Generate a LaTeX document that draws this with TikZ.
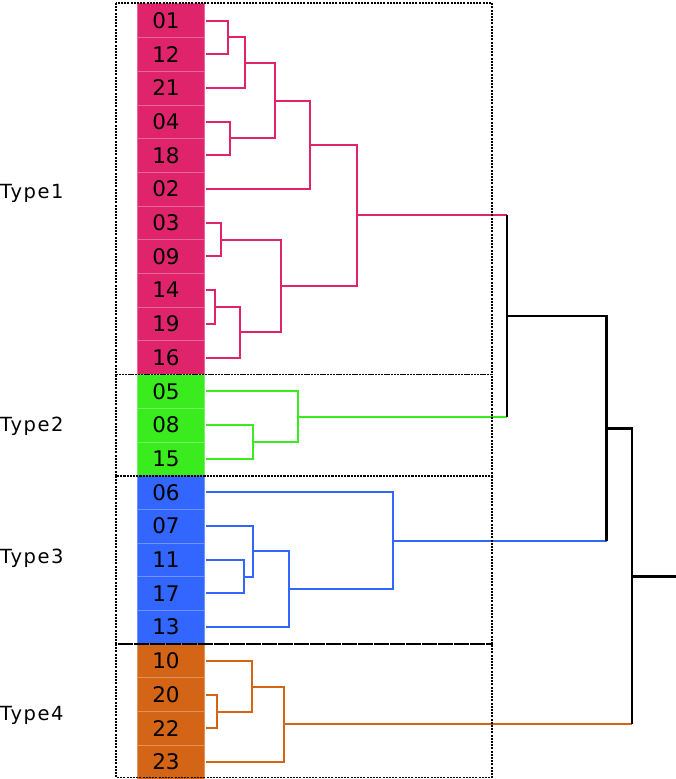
\documentclass[tikz,border=0pt]{standalone}
\usepackage{fontspec}
\setmainfont{DejaVu Sans}
\newfontfamily\typefont[LetterSpace=8]{DejaVu Sans}
\definecolor{cpink}{RGB}{224,36,108}
\definecolor{cgreen}{RGB}{58,235,30}
\definecolor{cblue}{RGB}{51,102,255}
\definecolor{corange}{RGB}{212,100,22}
\begin{document}
\begin{tikzpicture}[x=1pt,y=-1pt,
  leaf/.style={rectangle, minimum width=67pt, minimum height=33.7pt, inner sep=0pt,
    font=\fontsize{21.5}{22}\selectfont, text=black, line width=0.5pt},
  typelab/.style={anchor=west, inner sep=0pt, font=\typefont\fontsize{19.5}{21}\selectfont},
  pk/.style={draw=cpink, line width=2pt},
  gr/.style={draw=cgreen, line width=2pt},
  bl/.style={draw=cblue, line width=2pt},
  og/.style={draw=corange, line width=2pt},
  blk/.style={draw=black, line width=2.4pt},
  dbox/.style={draw=black, line width=1.3pt, dash pattern=on 2pt off 1.2pt}]
\useasboundingbox (0,0) rectangle (675,779);
% leaves
\foreach \n/\c [count=\i from 0] in {01/cpink,12/cpink,21/cpink,04/cpink,18/cpink,02/cpink,03/cpink,09/cpink,14/cpink,19/cpink,16/cpink,05/cgreen,08/cgreen,15/cgreen,06/cblue,07/cblue,11/cblue,17/cblue,13/cblue,10/corange,20/corange,22/corange,23/corange}{
  \node[leaf, fill=\c, draw=\c!70!white] (l\n) at (171, 20.5+33.7*\i) {\hspace*{-10pt}\n};
  \coordinate (e\n) at ([xshift=1.5pt]l\n.east);
}
% type labels
\node[typelab] (t1) at (0,193) {Type1};
\node[typelab] (t2) at (0,426) {Type2};
\node[typelab] (t3) at (0,558) {Type3};
\node[typelab] (t4) at (0,715) {Type4};
% merge points
\coordinate (A) at (228,37.35);
\coordinate (B) at (245,62.6);
\coordinate (C) at (229.5,138.45);
\coordinate (D) at (274.5,100.5);
\coordinate (E) at (309.5,144.75);
\coordinate (F) at (221,239.55);
\coordinate (G) at (215,306.95);
\coordinate (H) at (240,332.2);
\coordinate (I) at (281,285.9);
\coordinate (J) at (357,215.3);
\coordinate (K) at (253,441.85);
\coordinate (L) at (298,416.5);
\coordinate (M) at (244,576.65);
\coordinate (N) at (253,551.4);
\coordinate (O) at (288.5,589.3);
\coordinate (P) at (393,540.85);
\coordinate (Q) at (217,711.75);
\coordinate (R) at (252,686.5);
\coordinate (S) at (283.5,724.4);
\coordinate (T) at (507,315.9);
\coordinate (U) at (606.5,428.4);
\coordinate (V) at (632,576.4);
\coordinate (root) at (676,576.4);
% Type1
\draw[pk] (e01) -| (A) |- (e12);
\draw[pk] (A) -| (B) |- (e21);
\draw[pk] (e04) -| (C) |- (e18);
\draw[pk] (B) -| (D) |- (C);
\draw[pk] (D) -| (E) |- (e02);
\draw[pk] (e03) -| (F) |- (e09);
\draw[pk] (e14) -| (G) |- (e19);
\draw[pk] (G) -| (H) |- (e16);
\draw[pk] (F) -| (I) |- (H);
\draw[pk] (E) -| (J) |- (I);
\draw[pk] (J) -- (J -| T);
% Type2
\draw[gr] (e08) -| (K) |- (e15);
\draw[gr] (e05) -| (L) |- (K);
\draw[gr] (L) -- (L -| T);
% Type3
\draw[bl] (e11) -| (M) |- (e17);
\draw[bl] (e07) -| (N) |- (M);
\draw[bl] (N) -| (O) |- (e13);
\draw[bl] (e06) -| (P) |- (O);
\draw[bl] (P) -- (P -| U);
% Type4
\draw[og] (e20) -| (Q) |- (e22);
\draw[og] (e10) -| (R) |- (Q);
\draw[og] (R) -| (S) |- (e23);
\draw[og] (S) -- (S -| V);
% black top levels
\draw[blk] (J -| T) -- (L -| T);
\draw[blk] (T) -| (U) -- (P -| U);
\draw[blk] (U) -| (V) -- (S -| V);
\draw[blk] (V) -- (root);
% dashed group boxes
\draw[dbox] (116,3) rectangle (492,374.5);
\draw[dbox] (116,374.5) rectangle (492,476);
\draw[dbox] (116,476) rectangle (492,644);
\draw[dbox] (116,644) rectangle (492,777.5);
\end{tikzpicture}
\end{document}
